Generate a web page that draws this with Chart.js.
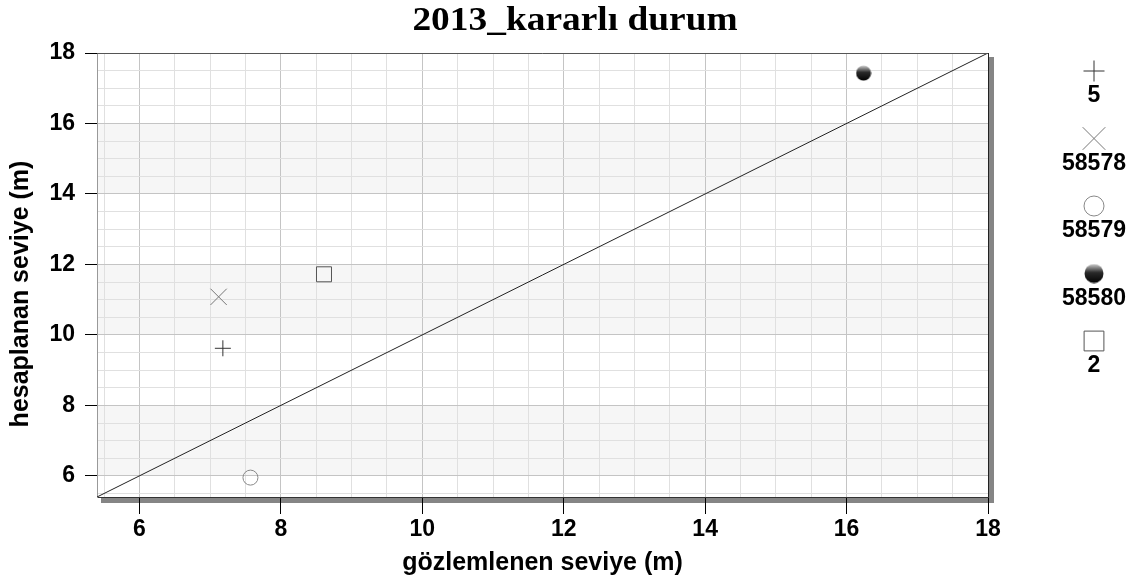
<!DOCTYPE html>
<html>
<head>
<meta charset="utf-8">
<script src="https://cdn.jsdelivr.net/npm/chart.js@4"></script>
<style>
html, body { margin: 0; padding: 0; background: #fff; }
#wrap { width: 1141px; height: 584px; }
</style>
</head>
<body>
<div id="wrap"><canvas id="myCanvas"></canvas></div>
<script>
// values
var seriesNames = ['5', '58578', '58579', '58580', '2'];
var observed = [7.18, 7.12, 7.57, 16.24, 8.61];   // gözlemlenen
var computed = [9.62, 11.08, 5.95, 17.43, 11.72]; // hesaplanan
var lineX = [5.4, 18];
var lineY = [5.4, 18];
var axisMin = 5.4, axisMax = 18;
var shadedBands = [[6, 8], [10, 12], [14, 16]];

var chartTitle = '2013_kararlı durum';
var xTitle = 'gözlemlenen seviye (m)';
var yTitle = 'hesaplanan seviye (m)';

var fontSans = 'Liberation Sans';

// shaded ball marker
function makeBall(d) {
    var c = document.createElement('canvas');
    c.width = d; c.height = d;
    var g = c.getContext('2d');
    var grad = g.createLinearGradient(0, 0, 0, d);
    grad.addColorStop(0, '#d8d8d8');
    grad.addColorStop(0.45, '#2a2a2a');
    grad.addColorStop(1, '#000');
    g.fillStyle = grad;
    g.beginPath();
    g.arc(d / 2, d / 2, d / 2 - 0.5, 0, Math.PI * 2);
    g.fill();
    return c;
}
var ballSmall = makeBall(16);
var ballBig = makeBall(20);

var markers = [
    {style: 'cross', radius: 8, legendRadius: 10.5, border: '#333', bg: 'transparent'},
    {style: 'crossRot', radius: 11.5, legendRadius: 16, border: '#777', bg: 'transparent'},
    {style: 'circle', radius: 7.5, legendRadius: 10, border: '#888', bg: 'transparent'},
    {style: ballSmall, legendStyle: ballBig, radius: 8, legendRadius: 10, border: '#000', bg: '#000'},
    {style: 'rect', radius: 10.6, legendRadius: 14, border: '#555', bg: 'transparent'}
];

var datasets = [{
    type: 'line',
    label: 'line',
    data: lineX.map(function (x, i) { return {x: x, y: lineY[i]}; }),
    borderColor: '#222',
    borderWidth: 1,
    pointRadius: 0,
    fill: false
}];
for (var i = 0; i < seriesNames.length; i++) {
    datasets.push({
        type: 'scatter',
        label: seriesNames[i],
        data: [{x: observed[i], y: computed[i]}],
        pointStyle: markers[i].style,
        pointRadius: markers[i].radius,
        pointBorderColor: markers[i].border,
        pointBackgroundColor: markers[i].bg,
        pointBorderWidth: 1
    });
}

function isMajor(v) {
    return Math.abs(v / 2 - Math.round(v / 2)) < 1e-6;
}

// background bands + frame shadow
var frameBg = {
    id: 'frameBg',
    beforeDraw(chart) {
        var a = chart.chartArea, ctx = chart.ctx, y = chart.scales.y;
        ctx.save();
        ctx.fillStyle = '#f6f6f6';
        shadedBands.forEach(function (b) {
            var y1 = y.getPixelForValue(b[1]), y0 = y.getPixelForValue(b[0]);
            ctx.fillRect(a.left, y1, a.right - a.left, y0 - y1);
        });
        ctx.fillStyle = '#858585';
        ctx.fillRect(a.left + 4, a.bottom + 1, a.right - a.left + 1, 5);
        ctx.fillRect(a.right + 1, a.top + 4, 5, a.bottom - a.top + 2);
        ctx.restore();
    },
    afterDatasetsDraw(chart) {
        var a = chart.chartArea, ctx = chart.ctx;
        ctx.save();
        ctx.lineWidth = 1;
        ctx.strokeStyle = '#555';
        ctx.beginPath();
        ctx.moveTo(a.left, a.top + 0.5);
        ctx.lineTo(a.right, a.top + 0.5);
        ctx.stroke();
        ctx.strokeStyle = '#222';
        ctx.beginPath();
        ctx.moveTo(a.right + 0.5, a.top);
        ctx.lineTo(a.right + 0.5, a.bottom);
        ctx.stroke();
        ctx.restore();
    }
};

// chart title and vertical axis title
var titles = {
    id: 'titles',
    afterDraw(chart) {
        var ctx = chart.ctx;
        ctx.save();
        ctx.fillStyle = '#000';
        ctx.textAlign = 'center';
        ctx.textBaseline = 'alphabetic';
        ctx.font = 'bold 34px Liberation Serif';
        ctx.translate(575, 30);
        ctx.scale(1.1, 1);
        ctx.fillText(chartTitle, 0, 0);
        ctx.restore();

        ctx.save();
        ctx.fillStyle = '#000';
        ctx.textAlign = 'center';
        ctx.textBaseline = 'middle';
        ctx.font = 'bold 25px ' + fontSans;
        ctx.translate(21, 294);
        ctx.rotate(-Math.PI / 2);
        ctx.fillText(yTitle, 0, 0);
        ctx.restore();
    }
};

// legend on the right: marker above label
var sideLegend = {
    id: 'sideLegend',
    afterDraw(chart) {
        var ctx = chart.ctx;
        var lx = 1094, y0 = 71, step = 67.5;
        ctx.save();
        for (var i = 0; i < seriesNames.length; i++) {
            var m = markers[i];
            var cy = y0 + i * step;
            ctx.strokeStyle = m.border;
            ctx.fillStyle = m.bg;
            ctx.lineWidth = 1;
            Chart.helpers.drawPoint(ctx, {
                pointStyle: m.legendStyle || m.style,
                radius: m.legendRadius,
                rotation: 0,
                borderWidth: 1
            }, lx, cy);
            ctx.fillStyle = '#000';
            ctx.font = 'bold 23px ' + fontSans;
            ctx.textAlign = 'center';
            ctx.textBaseline = 'middle';
            ctx.fillText(seriesNames[i], lx, cy + 25);
        }
        ctx.restore();
    }
};

var ctx = document.getElementById('myCanvas').getContext('2d');
var myChart = new Chart(ctx, {
    data: {datasets: datasets},
    options: {
        responsive: true,
        maintainAspectRatio: false,
        animation: false,
        layout: {padding: {left: 0, right: 153, top: 53, bottom: 0}},
        plugins: {
            legend: {display: false},
            tooltip: {enabled: false},
            title: {display: false}
        },
        scales: {
            x: {
                type: 'linear',
                min: axisMin,
                max: axisMax,
                afterFit(scale) { scale.height = 87; },
                ticks: {
                    stepSize: 0.5,
                    includeBounds: false,
                    autoSkip: false,
                    maxRotation: 0,
                    padding: 2,
                    color: '#000',
                    font: {family: fontSans, size: 23, weight: 'bold'},
                    callback: function (v) { return isMajor(v) ? v : ''; }
                },
                grid: {
                    color: function (c) { return isMajor(c.tick.value) ? '#c4c4c4' : '#e0e0e0'; },
                    tickColor: function (c) { return isMajor(c.tick.value) ? '#000' : 'rgba(0,0,0,0)'; },
                    tickLength: 17
                },
                border: {display: true, color: '#333', width: 1},
                title: {
                    display: true,
                    text: xTitle,
                    color: '#000',
                    font: {family: fontSans, size: 25, weight: 'bold'},
                    padding: {top: 0, bottom: 6}
                }
            },
            y: {
                type: 'linear',
                min: axisMin,
                max: axisMax,
                afterFit(scale) { scale.width = 97; },
                ticks: {
                    stepSize: 0.5,
                    includeBounds: false,
                    autoSkip: false,
                    padding: 10,
                    color: '#000',
                    font: {family: fontSans, size: 23, weight: 'bold'},
                    callback: function (v) { return isMajor(v) ? v : ''; }
                },
                grid: {
                    color: function (c) { return isMajor(c.tick.value) ? '#c4c4c4' : '#e0e0e0'; },
                    tickColor: function (c) { return isMajor(c.tick.value) ? '#000' : 'rgba(0,0,0,0)'; },
                    tickLength: 12
                },
                border: {display: true, color: '#999', width: 1}
            }
        }
    },
    plugins: [frameBg, titles, sideLegend]
});
</script>
</body>
</html>
